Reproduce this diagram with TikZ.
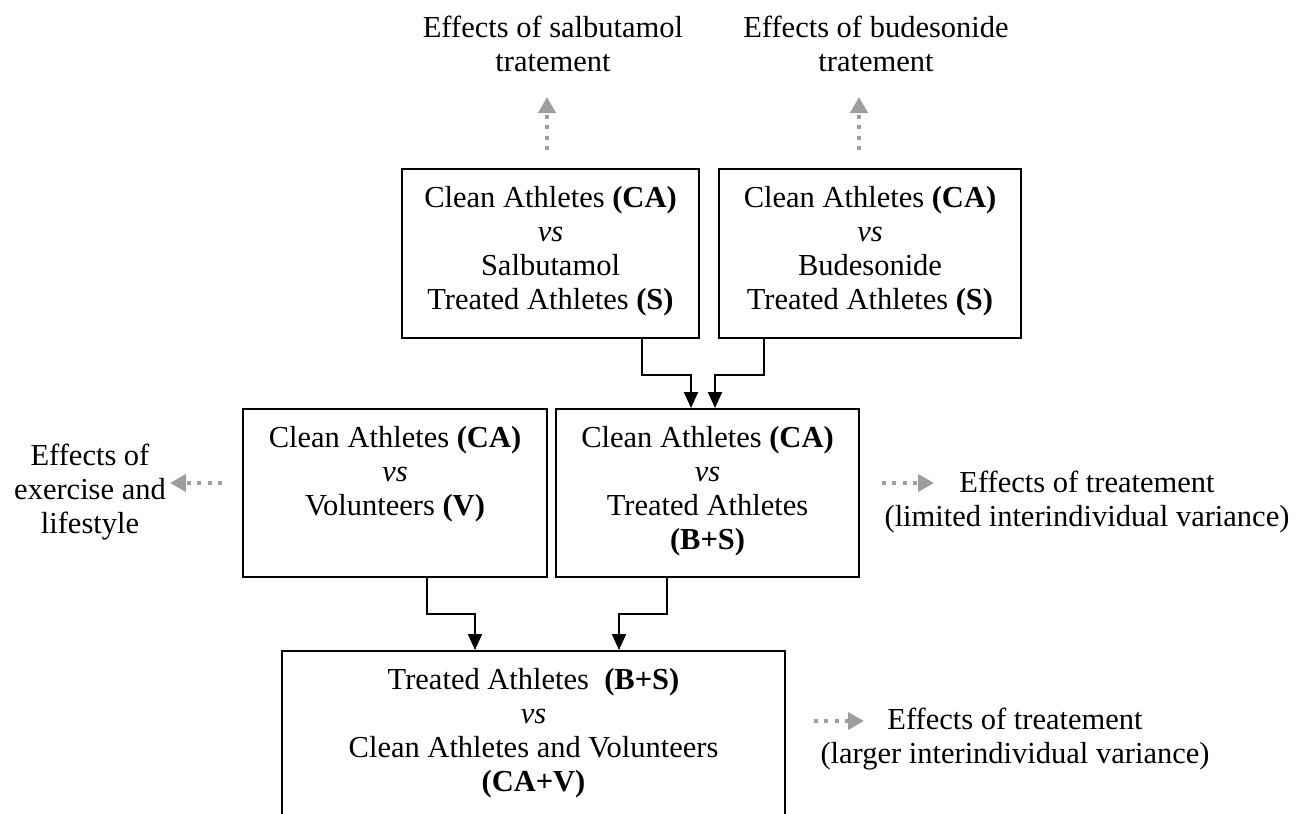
\documentclass[tikz,border=0pt]{standalone}
\usepackage{fontspec}
\setmainfont{Liberation Serif}
\usetikzlibrary{calc, arrows.meta, positioning}

\tikzset{
  box/.style={draw, line width=1pt, inner sep=0pt, align=flush center,
    text height=19pt, anchor=north west},
  conn/.style={line width=1pt, -{Triangle[length=8pt,width=7pt]}},
  hint/.style={draw=black!38, line width=2pt, dash pattern=on 2pt off 3.2pt,
    -{Triangle[length=8pt,width=8.5pt,fill=black!38]}},
  effect/.style={align=center, inner sep=0pt}
}

\begin{document}
\begin{tikzpicture}[x=0.5pt, y=-0.5pt,
          font=\fontsize{15.25}{17}\selectfont]

  \useasboundingbox (0,0) rectangle (1296,814);
  \clip (0,0) rectangle (1296,814);

  % comparison boxes
  \node[box, text width=148.5pt, text depth=65.5pt] (salb) at (401,168)
    {Clean Athletes \textbf{(CA)}\\ \textit{vs}\\ Salbutamol\\ Treated Athletes \textbf{(S)}};
  \node[box, text width=151pt, text depth=65.5pt] (bude) at (718,168)
    {Clean Athletes \textbf{(CA)}\\ \textit{vs}\\ Budesonide\\ Treated Athletes \textbf{(S)}};
  \node[box, text width=152pt, text depth=65pt] (volu) at (242,408)
    {Clean Athletes \textbf{(CA)}\\ \textit{vs}\\ Volunteers \textbf{(V)}};
  \node[box, text width=151.5pt, text depth=65pt] (treat) at (555,408)
    {Clean Athletes \textbf{(CA)}\\ \textit{vs}\\ Treated Athletes\\ \textbf{(B+S)}};
  \node[box, text width=251.5pt, text depth=90pt] (pool) at (281,650)
    {Treated Athletes\ \ \textbf{(B+S)}\\ \textit{vs}\\ Clean Athletes and Volunteers\\ \textbf{(CA+V)}};

  % effects
  \node[effect] (effS) at (553,44) {Effects of salbutamol\\ tratement};
  \node[effect] (effB) at (876,44) {Effects of budesonide\\ tratement};
  \node[effect] (effX) at (90,492) {Effects of\\ exercise and\\ lifestyle};
  \node[effect] (effL) at (1087,502) {Effects of treatement\\ (limited interindividual variance)};
  \node[effect] (effG) at (1015,739) {Effects of treatement\\ (larger interindividual variance)};

  % solid connectors
  \draw[conn] ($(salb.south)+(91.5,0)$) -- ++(0,36) -| ($(treat.north)+(-16.5,0)$);
  \draw[conn] ($(bude.south)+(-106,0)$) -- ++(0,36) -| ($(treat.north)+(7.5,0)$);
  \draw[conn] ($(volu.south)+(32,0)$) -- ++(0,36) -| ($(pool.north)+(-58.5,0)$);
  \draw[conn] ($(treat.south)+(-40.5,0)$) -- ++(0,36) -| ($(pool.north)+(85.5,0)$);

  % dotted hints
  \draw[hint] ($(salb.north)+(-3.5,-18)$) -- ($(salb.north)+(-3.5,-71)$);
  \draw[hint] ($(bude.north)+(-11,-18)$) -- ($(bude.north)+(-11,-71)$);
  \draw[hint] ($(volu.north west)+(-20,75)$) -- ++(-52,0);
  \draw[hint] ($(treat.north east)+(22,75)$) -- ++(52,0);
  \draw[hint] ($(pool.north east)+(28,71)$) -- ++(50,0);

\end{tikzpicture}
\end{document}
